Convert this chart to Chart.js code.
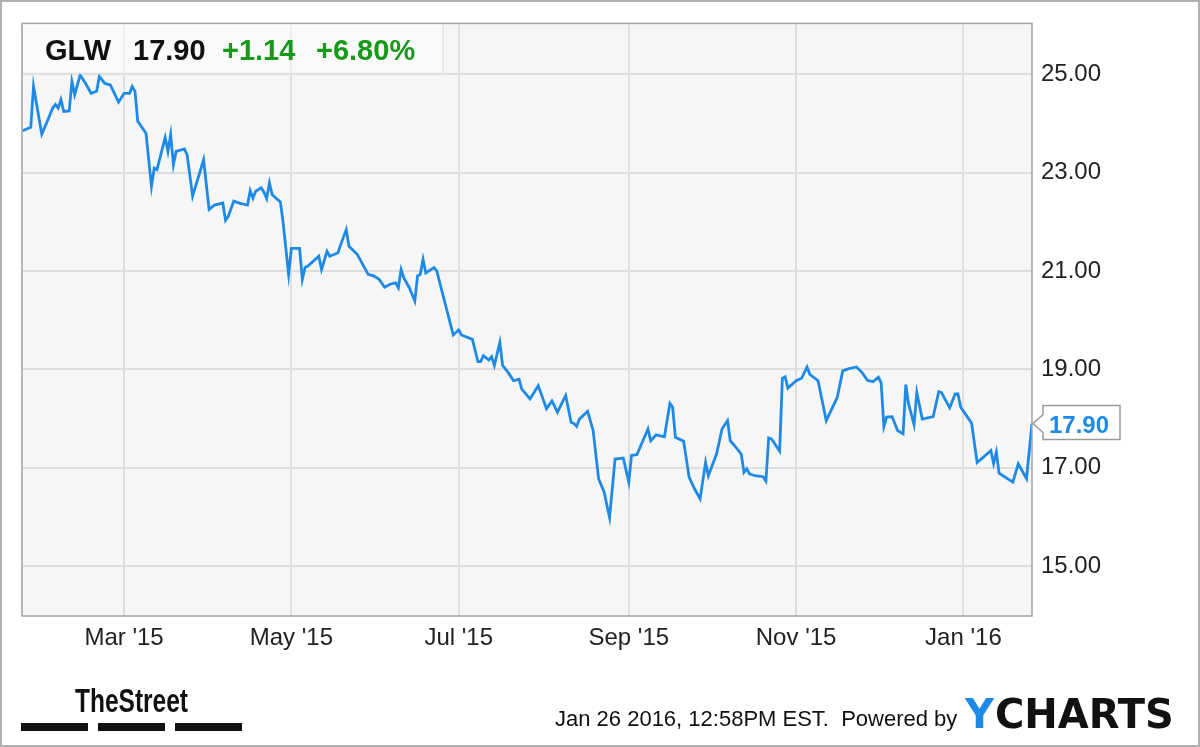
<!DOCTYPE html>
<html>
<head>
<meta charset="utf-8">
<title>GLW</title>
<script src="https://cdn.jsdelivr.net/npm/chart.js@4/dist/chart.umd.min.js"></script>
<style>
  html, body { margin: 0; padding: 0; background: #fff; }
  #wrap { width: 1200px; height: 747px; position: relative; }
</style>
</head>
<body>
<div id="wrap"><canvas id="glwChart" width="1200" height="747"></canvas></div>
<script>
// days counted from 1 Jan 2015, closing prices
const days = [22,25,26,29,31,33,34,35,36,37,39,40,41,42,43,45,47,49,50,52,
  54,57,59,61,62,63,64,67,69,70,71,74,75,76,77,78,81,82,84,88,
  90,92,95,96,97,99,101,104,105,106,107,109,110,111,112,113,116,117,119,120,
  123,124,125,126,130,131,133,134,137,138,140,141,144,148,150,152,154,156,158,159,
  160,161,163,165,166,167,168,169,172,173,179,181,182,186,188,189,190,192,193,194,
  196,197,199,201,203,204,207,210,213,215,217,220,222,223,224,225,228,230,232,234,
  236,238,241,243,244,246,250,251,253,256,258,259,260,263,265,267,269,271,272,275,
  277,279,280,282,284,285,286,287,289,292,293,294,295,298,299,300,301,304,306,308,
  309,312,315,319,321,323,326,328,330,332,334,335,336,337,339,341,343,344,345,347,
  348,350,354,356,357,360,362,363,364,367,368,370,375,376,377,378,383,385,388,390];

const prices = [23.85,23.92,24.75,23.78,24.04,24.31,24.38,24.31,24.48,24.24,
  24.25,24.85,24.58,24.78,24.98,24.81,24.61,24.65,24.95,24.81,
  24.78,24.43,24.61,24.61,24.75,24.65,24.04,23.80,22.72,23.09,
  23.06,23.71,23.43,23.77,23.16,23.43,23.48,23.36,22.52,23.26,
  22.25,22.34,22.38,22.03,22.11,22.42,22.38,22.34,22.63,22.48,
  22.62,22.69,22.60,22.47,22.79,22.55,22.40,21.98,20.93,21.46,
  21.46,20.83,21.07,21.10,21.30,21.03,21.40,21.30,21.37,21.54,
  21.84,21.50,21.34,20.93,20.90,20.83,20.67,20.73,20.76,20.66,
  21.03,20.86,20.66,20.39,20.90,20.93,21.24,20.96,21.07,21.00,
  19.70,19.80,19.70,19.61,19.16,19.16,19.28,19.19,19.26,19.08,
  19.55,19.08,18.94,18.77,18.80,18.60,18.40,18.67,18.20,18.36,
  18.13,18.47,17.92,17.90,17.84,17.99,18.15,17.76,16.78,16.51,
  15.99,17.18,17.20,16.71,17.25,17.27,17.79,17.55,17.67,17.63,
  18.31,18.23,17.62,17.54,16.81,16.57,16.37,17.11,16.84,17.28,
  17.79,17.96,17.55,17.42,17.28,16.91,16.98,16.88,16.84,16.82,
  16.73,17.61,17.59,17.34,18.82,18.85,18.62,18.77,18.82,19.05,
  18.90,18.77,17.96,18.43,18.97,19.01,19.05,18.94,18.78,18.75,
  18.84,18.73,17.84,18.03,18.04,17.76,17.69,18.69,18.30,17.88,
  18.53,17.99,18.04,18.55,18.53,18.22,18.50,18.50,18.23,17.99,
  17.90,17.11,17.35,17.09,17.32,16.89,16.71,17.08,16.78,17.90];

const xTickDays = [59, 120, 181, 243, 304, 365];
const xTickLabels = ["Mar '15", "May '15", "Jul '15", "Sep '15", "Nov '15", "Jan '16"];
const yTicks = [15, 17, 19, 21, 23, 25];

const ticker = 'GLW';
const lastPrice = '17.90';
const change = '+1.14';
const changePct = '+6.80%';
const stamp = 'Jan 26 2016, 12:58PM EST.  Powered by';

const lineBlue = '#1e8ae6';
const green = '#17991a';

// background of plot, frame, header, price tag, footer
const decor = {
  id: 'decor',
  beforeDraw(chart) {
    const ctx = chart.ctx, a = chart.chartArea;
    ctx.save();
    ctx.fillStyle = '#f6f6f6';
    ctx.fillRect(a.left, a.top, a.right - a.left, a.bottom - a.top);
    ctx.restore();
  },
  afterDraw(chart) {
    const ctx = chart.ctx, a = chart.chartArea;
    ctx.save();

    // plot border
    ctx.strokeStyle = '#a3a3a3';
    ctx.lineWidth = 1.5;
    ctx.strokeRect(a.left, a.top, a.right - a.left, a.bottom - a.top);

    // outer frame
    ctx.strokeStyle = '#b0b0b0';
    ctx.lineWidth = 2;
    ctx.strokeRect(1, 1, 1198, 745);

    // header box
    ctx.fillStyle = 'rgba(255,255,255,0.45)';
    ctx.fillRect(a.left + 1, a.top + 1, 420, 49);
    ctx.strokeStyle = '#e2e2e2';
    ctx.lineWidth = 1.5;
    ctx.beginPath();
    ctx.moveTo(a.left + 1, a.top + 50);
    ctx.lineTo(a.left + 421, a.top + 50);
    ctx.lineTo(a.left + 421, a.top + 1);
    ctx.stroke();

    ctx.textBaseline = 'alphabetic';
    ctx.textAlign = 'left';
    ctx.font = 'bold 29px "Liberation Sans", Arial, sans-serif';
    ctx.fillStyle = '#111';
    ctx.fillText(ticker, 45, 60);
    ctx.fillText(lastPrice, 133, 60);
    ctx.fillStyle = green;
    ctx.fillText(change, 222, 60);
    ctx.fillText(changePct, 316, 60);

    // last price tag
    const y = chart.scales.y.getPixelForValue(prices[prices.length - 1]);
    ctx.fillStyle = '#fff';
    ctx.strokeStyle = '#9a9a9a';
    ctx.lineWidth = 1.5;
    ctx.beginPath();
    ctx.moveTo(1043, y - 18);
    ctx.lineTo(1120, y - 18);
    ctx.lineTo(1120, y + 16);
    ctx.lineTo(1043, y + 16);
    ctx.lineTo(1043, y + 9);
    ctx.lineTo(1033, y);
    ctx.lineTo(1043, y - 9);
    ctx.closePath();
    ctx.fill();
    ctx.stroke();
    ctx.fillStyle = lineBlue;
    ctx.font = 'bold 24px "Liberation Sans", Arial, sans-serif';
    ctx.fillText(lastPrice, 1049, y + 9);

    // footer: TheStreet logo
    ctx.fillStyle = '#111';
    ctx.font = 'bold 34px "Liberation Sans", Arial, sans-serif';
    ctx.fillText('TheStreet', 75, 712, 113);
    ctx.fillRect(21, 723, 67, 8);
    ctx.fillRect(98, 723, 67, 8);
    ctx.fillRect(175, 723, 67, 8);

    // footer: timestamp and YCHARTS
    ctx.fillStyle = '#111';
    ctx.font = '22px "Liberation Sans", Arial, sans-serif';
    ctx.fillText(stamp, 555, 726, 403);
    ctx.font = 'bold 40px "DejaVu Sans", sans-serif';
    ctx.fillStyle = lineBlue;
    ctx.fillText('Y', 965, 728);
    const yW = ctx.measureText('Y').width;
    ctx.fillStyle = '#111';
    ctx.fillText('CHARTS', 965 + yW + 1, 728, 1177 - 966 - yW);
    ctx.restore();
  }
};

const ctx = document.getElementById('glwChart').getContext('2d');
new Chart(ctx, {
  type: 'line',
  data: {
    datasets: [{
      data: days.map((d, i) => ({ x: d, y: prices[i] })),
      borderColor: lineBlue,
      borderWidth: 2.8,
      pointRadius: 0,
      tension: 0,
      fill: false
    }]
  },
  options: {
    responsive: false,
    animation: false,
    devicePixelRatio: 1,
    layout: { padding: { left: 22, top: 22, right: 0, bottom: 0 } },
    plugins: { legend: { display: false }, tooltip: { enabled: false } },
    scales: {
      x: {
        type: 'linear',
        min: 21.8,
        max: 390,
        afterBuildTicks: function (scale) {
          scale.ticks = xTickDays.map(v => ({ value: v }));
        },
        afterFit: function (scale) { scale.height = 131; },
        ticks: {
          autoSkip: false,
          maxRotation: 0,
          padding: 8,
          color: '#222',
          font: { family: '"Liberation Sans", Arial, sans-serif', size: 24 },
          callback: function (v) { return xTickLabels[xTickDays.indexOf(v)]; }
        },
        grid: { color: '#dedede', lineWidth: 2, drawTicks: false },
        border: { display: false }
      },
      y: {
        position: 'right',
        min: 13.99,
        max: 26.03,
        afterBuildTicks: function (scale) {
          scale.ticks = yTicks.map(v => ({ value: v }));
        },
        afterFit: function (scale) { scale.width = 168; },
        ticks: {
          padding: 9,
          color: '#222',
          font: { family: '"Liberation Sans", Arial, sans-serif', size: 24 },
          callback: function (v) { return v.toFixed(2); }
        },
        grid: { color: '#dedede', lineWidth: 2, drawTicks: false },
        border: { display: false }
      }
    }
  },
  plugins: [decor]
});
</script>
</body>
</html>
